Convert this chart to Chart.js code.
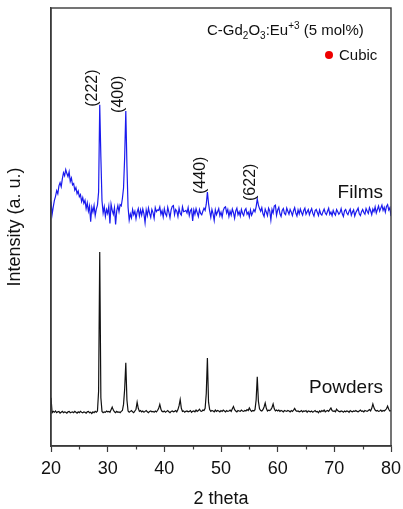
<!DOCTYPE html>
<html>
<head>
<meta charset="utf-8">
<script src="https://cdn.jsdelivr.net/npm/chart.js@4.4.1/dist/chart.umd.min.js"></script>
<style>
  html, body { margin: 0; padding: 0; background: #fff; }
  canvas { display: block; }
</style>
</head>
<body>
<canvas id="xrd" width="403" height="509"></canvas>
<script>
// 2-theta sampling grid: 20..80 deg, 0.2 deg step
var thetaStart = 20;
var thetaStep = 0.2;

// thin film pattern (offset upward in the stack)
var filmsIntensity = [
  55.8, 52.9, 54.6, 56.1, 57.0, 58.3, 57.6, 59.4, 60.1, 59.2,
  61.0, 62.4, 61.7, 63.1, 62.2, 61.5, 62.6, 60.4, 61.2, 59.6,
  59.9, 58.4, 59.0, 57.6, 58.2, 56.9, 57.4, 55.8, 56.7, 55.4,
  56.1, 54.2, 55.5, 53.6, 54.8, 51.2, 54.5, 53.4, 54.9, 52.6,
  54.1, 55.0, 58.0, 77.9, 66.0, 56.0, 53.2, 54.6, 52.4, 54.0,
  53.1, 54.7, 50.8, 55.2, 53.8, 52.9, 54.4, 50.6, 53.7, 54.9,
  53.5, 55.1, 54.8, 56.5, 58.9, 66.0, 76.5, 64.0, 54.5, 51.6,
  53.0, 52.1, 54.0, 52.8, 53.6, 51.9, 53.4, 54.2, 52.5, 53.9,
  52.7, 54.1, 53.0, 51.0, 53.9, 52.6, 54.3, 53.1, 52.2, 54.0,
  53.3, 52.0, 54.4, 53.5, 53.9, 53.8, 54.6, 52.9, 53.7, 52.3,
  54.2, 53.0, 52.5, 54.5, 53.4, 52.1, 53.9, 54.7, 54.9, 52.8,
  54.0, 53.6, 52.4, 54.3, 53.1, 52.7, 54.6, 53.5, 53.6, 53.8,
  53.2, 54.4, 52.6, 53.7, 54.1, 51.4, 53.9, 52.9, 54.2, 53.3,
  52.4, 54.0, 53.1, 52.8, 53.6, 54.3, 53.8, 55.2, 58.0, 55.4,
  53.6, 52.2, 54.0, 53.0, 51.5, 53.9, 52.8, 53.5, 54.2, 52.6,
  53.4, 52.3, 53.8, 54.4, 54.6, 53.2, 54.0, 52.4, 53.6, 52.7,
  54.1, 53.3, 52.0, 53.7, 54.3, 52.8, 53.5, 52.5, 54.0, 53.1,
  52.6, 53.8, 54.2, 52.9, 53.4, 52.3, 53.9, 52.7, 53.3, 54.0,
  53.5, 54.6, 56.4, 55.0, 54.2, 53.6, 54.4, 53.0, 52.4, 54.1,
  53.4, 52.6, 54.3, 53.7, 51.6, 54.0, 53.2, 54.8, 55.0, 52.7,
  53.9, 54.5, 53.0, 52.4, 53.8, 54.2, 53.1, 52.8, 54.3, 53.6,
  52.9, 54.0, 53.4, 52.6, 53.7, 54.4, 53.2, 52.5, 53.9, 53.0,
  54.1, 53.3, 52.7, 53.8, 54.3, 52.9, 53.5, 54.0, 52.8, 53.6,
  54.2, 53.1, 52.5, 53.7, 54.0, 53.3, 52.6, 53.9, 53.0, 52.7,
  53.5, 54.1, 53.2, 52.8, 53.6, 54.3, 52.9, 53.4, 52.6, 53.8,
  53.1, 52.7, 54.0, 53.5, 52.9, 53.3, 54.2, 53.0, 52.4, 53.7,
  54.0, 53.2, 52.8, 53.6, 54.1, 52.7, 53.4, 53.9, 52.5, 53.3,
  53.8, 54.3, 53.0, 52.6, 53.5, 54.0, 53.3, 52.9, 54.2, 53.6,
  53.1, 54.4, 53.7, 52.8, 54.1, 53.5, 54.6, 53.2, 54.0, 54.8,
  53.6, 54.3, 55.0, 53.8, 54.5, 53.4, 54.7, 55.1, 53.9, 54.4,
  52.5
];

// powder pattern (bottom trace)
var powdersIntensity = [
  11.0, 7.6, 7.9, 7.7, 8.0, 7.6, 7.8, 7.9, 7.5, 7.7,
  7.9, 7.6, 7.8, 7.7, 7.5, 7.8, 7.9, 7.6, 7.7, 7.8,
  7.6, 7.9, 7.7, 7.5, 7.8, 7.6, 7.9, 7.7, 7.6, 7.8,
  7.7, 7.5, 7.8, 7.9, 7.6, 7.7, 7.4, 7.8, 7.6, 7.9,
  7.7, 8.0, 12.5, 44.3, 11.0, 7.9, 7.6, 7.8, 7.7, 8.0,
  7.8, 7.9, 7.7, 8.3, 8.9, 8.2, 7.8, 7.6, 7.9, 7.7,
  7.8, 7.6, 7.9, 8.1, 9.5, 13.0, 19.0, 10.5, 8.0, 7.7,
  7.9, 8.1, 7.8, 7.6, 8.0, 8.4, 10.0, 8.6, 7.9, 8.1,
  7.8, 8.0, 7.7, 7.9, 8.1, 7.8, 7.6, 7.9, 8.0, 7.8,
  7.9, 7.7, 8.0, 7.8, 8.1, 8.6, 9.5, 8.4, 7.9, 7.8,
  8.0, 7.7, 7.9, 8.1, 7.8, 7.6, 7.9, 8.0, 7.8, 7.9,
  8.1, 7.8, 8.3, 9.2, 10.6, 8.6, 7.9, 8.0, 7.7, 7.9,
  8.0, 7.8, 7.9, 8.1, 7.7, 7.9, 8.0, 7.8, 8.2, 7.9,
  8.1, 8.4, 8.0, 7.9, 8.2, 8.1, 8.6, 12.0, 20.1, 10.0,
  8.3, 7.9, 8.1, 8.0, 7.8, 8.2, 7.9, 8.1, 8.0, 7.8,
  8.1, 7.9, 8.2, 8.0, 7.8, 8.1, 7.9, 8.0, 8.2, 7.9,
  8.5, 9.0, 8.3, 8.0, 7.8, 8.1, 8.0, 7.9, 8.2, 8.0,
  7.9, 8.1, 8.0, 8.3, 8.1, 8.7, 8.2, 7.9, 8.1, 8.0,
  8.3, 10.5, 15.8, 10.2, 8.5, 8.1, 8.0, 8.3, 8.9, 9.8,
  8.6, 8.0, 8.2, 8.1, 8.3, 8.8, 9.6, 8.5, 8.0, 8.2,
  8.0, 8.2, 7.9, 8.1, 8.0, 7.8, 8.1, 8.0, 7.9, 8.1,
  8.0, 7.8, 8.1, 7.9, 8.2, 8.6, 8.1, 7.9, 8.0, 7.8,
  7.9, 8.1, 7.8, 8.0, 7.9, 8.1, 7.7, 8.0, 7.9, 7.8,
  8.0, 7.7, 7.9, 8.1, 7.8, 7.9, 7.6, 8.0, 7.8, 8.1,
  7.9, 8.2, 7.8, 8.0, 8.1, 7.9, 8.3, 8.7, 8.1, 7.9,
  8.0, 7.8, 8.4, 8.1, 7.9, 7.8, 8.0, 7.9, 7.7, 8.0,
  7.8, 8.0, 7.9, 7.7, 8.1, 7.9, 7.8, 8.0, 7.9, 8.1,
  7.9, 7.8, 8.0, 8.2, 7.9, 8.0, 7.8, 8.1, 8.0, 7.9,
  8.1, 8.3, 8.0, 8.6, 9.6, 8.7, 8.2, 8.0, 8.1, 7.9,
  8.0, 8.2, 7.9, 8.1, 8.0, 8.2, 8.5, 9.1, 8.4, 8.0,
  8.1
];

// indexed cubic reflections marked on the film trace
var peakLabels = ['(222)', '(400)', '(440)', '(622)'];
var peakTheta = [28.6, 33.2, 47.6, 56.4];

var xTickValues = [20, 30, 40, 50, 60, 70, 80];

var FONT = '"Liberation Sans", Arial, Helvetica, sans-serif';

function toPoints(values) {
  var pts = [];
  for (var i = 0; i < values.length; i++) {
    pts.push({ x: +(thetaStart + i * thetaStep).toFixed(1), y: values[i] });
  }
  return pts;
}

function valueAt(values, theta) {
  return values[Math.round((theta - thetaStart) / thetaStep)];
}

// frame, minor ticks and all the text inside the plot
var decorations = {
  id: 'decorations',
  afterDraw: function (chart) {
    var ctx = chart.ctx;
    var area = chart.chartArea;
    var xs = chart.scales.x;
    var ys = chart.scales.y;

    ctx.save();
    // box around the plot
    ctx.strokeStyle = '#3a3a3a';
    ctx.lineWidth = 1.4;
    ctx.strokeRect(area.left, area.top, area.right - area.left, area.bottom - area.top);

    // minor ticks half way between the labelled ones
    ctx.lineWidth = 1.2;
    for (var t = 25; t < 80; t += 10) {
      var px = Math.round(xs.getPixelForValue(t)) + 0.5;
      ctx.beginPath();
      ctx.moveTo(px, area.bottom);
      ctx.lineTo(px, area.bottom + 3.5);
      ctx.stroke();
    }

    // peak indices, rotated, sitting just left of each reflection
    ctx.fillStyle = '#111';
    ctx.font = '16px ' + FONT;
    ctx.textAlign = 'left';
    ctx.textBaseline = 'bottom';
    for (var i = 0; i < peakLabels.length; i++) {
      var x = xs.getPixelForValue(peakTheta[i]);
      var y = ys.getPixelForValue(valueAt(filmsIntensity, peakTheta[i]));
      ctx.save();
      ctx.translate(x + 1, y + 2);
      ctx.rotate(-Math.PI / 2);
      ctx.fillText(peakLabels[i], 0, 0);
      ctx.restore();
    }

    // trace names
    ctx.font = '19px ' + FONT;
    ctx.textAlign = 'right';
    ctx.textBaseline = 'alphabetic';
    ctx.fillText('Films', area.right - 8, 198);
    ctx.fillText('Powders', area.right - 8, 393);

    // sample title with sub/superscripts
    var bx = 207, by = 35;
    var parts = [
      ['C-Gd', 15, 0], ['2', 10, 4], ['O', 15, 0], ['3', 10, 4],
      [':Eu', 15, 0], ['+3', 10, -6], [' (5 mol%)', 15, 0]
    ];
    ctx.textAlign = 'left';
    for (var j = 0; j < parts.length; j++) {
      ctx.font = parts[j][1] + 'px ' + FONT;
      ctx.fillText(parts[j][0], bx, by + parts[j][2]);
      bx += ctx.measureText(parts[j][0]).width;
    }

    // phase key
    ctx.fillStyle = '#ee0000';
    ctx.beginPath();
    ctx.arc(329, 55, 4, 0, Math.PI * 2);
    ctx.fill();
    ctx.fillStyle = '#111';
    ctx.font = '15px ' + FONT;
    ctx.fillText('Cubic', 339, 60);
    ctx.restore();
  }
};

new Chart(document.getElementById('xrd'), {
  type: 'line',
  data: {
    datasets: [{
      label: 'Films',
      data: toPoints(filmsIntensity),
      borderColor: '#1a1aee',
      borderWidth: 1.2,
      pointRadius: 0,
      tension: 0
    }, {
      label: 'Powders',
      data: toPoints(powdersIntensity),
      borderColor: '#111111',
      borderWidth: 1.2,
      pointRadius: 0,
      tension: 0
    }]
  },
  options: {
    responsive: false,
    animation: false,
    layout: { padding: { top: 8, right: 12, left: 0, bottom: 0 } },
    plugins: {
      legend: { display: false },
      tooltip: { enabled: false }
    },
    scales: {
      x: {
        type: 'linear',
        min: 20,
        max: 80,
        afterBuildTicks: function (scale) {
          scale.ticks = xTickValues.map(function (v) { return { value: v }; });
        },
        afterFit: function (scale) {
          scale.height = 63;
          scale.paddingLeft = 0;
          scale.paddingRight = 0;
        },
        ticks: {
          color: '#111',
          font: { family: FONT, size: 18 },
          padding: 6,
          maxRotation: 0
        },
        grid: {
          display: true,
          drawOnChartArea: false,
          tickLength: 6,
          tickWidth: 1.2,
          tickColor: '#3a3a3a'
        },
        border: { display: true, color: '#3a3a3a', width: 1.4 },
        title: {
          display: true,
          text: '2 theta',
          color: '#111',
          font: { family: FONT, size: 18, lineHeight: 1.1 },
          padding: { top: 0, bottom: 0 }
        }
      },
      y: {
        min: 0,
        max: 100,
        afterFit: function (scale) {
          scale.width = 51;
          scale.paddingTop = 0;
          scale.paddingBottom = 0;
        },
        ticks: { display: false },
        grid: { display: false },
        border: { display: true, color: '#3a3a3a', width: 1.4 },
        title: {
          display: true,
          text: 'Intensity (a. u.)',
          color: '#111',
          font: { family: FONT, size: 18, lineHeight: 1.2 },
          padding: { top: 4, bottom: 0 }
        }
      }
    }
  },
  plugins: [decorations]
});
</script>
</body>
</html>
